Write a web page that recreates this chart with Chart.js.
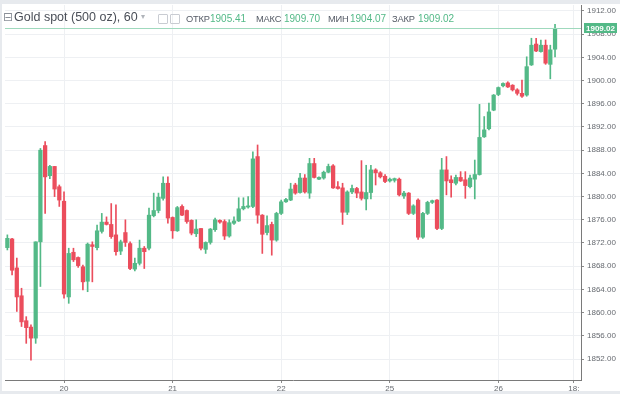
<!DOCTYPE html>
<html>
<head>
<meta charset="utf-8">
<script src="https://cdn.jsdelivr.net/npm/chart.js@4.4.1/dist/chart.umd.min.js"></script>
<style>
  html, body { margin: 0; padding: 0; background: #ffffff; }
  #wrap { position: relative; width: 620px; height: 394px; overflow: hidden; }
  #c { position: absolute; left: 0; top: 0; }
  .stripe { position: absolute; background: #e7eaee; }
  .hd { position: absolute; white-space: nowrap; font-family: 'Liberation Sans', Arial, sans-serif; }
  .lbl { font-size: 9.3px; color: #555b66; top: 14px; letter-spacing: -0.2px; }
  .val { font-size: 10px; color: #53b987; top: 13px; }
  .ico { position: absolute; top: 14px; width: 8px; height: 8px; border: 1px solid #c9ccd2; border-radius: 1px; }
</style>
</head>
<body>
<div id="wrap">
  <canvas id="c" width="620" height="394"></canvas>
  <div class="stripe" style="left:0;top:0;width:620px;height:4px;"></div>
  <div class="stripe" style="left:0;top:0;width:2px;height:394px;"></div>
  <div class="stripe" style="left:0;top:391px;width:620px;height:3px;"></div>
  <span class="hd" style="left:3px;top:10px;font-size:12px;color:#8a8f98;font-family:'DejaVu Sans';">⊟</span>
  <span class="hd" style="left:14px;top:10px;font-size:12.5px;color:#4a4f58;">Gold spot (500 oz), 60</span>
  <span class="hd" style="left:141px;top:12px;font-size:8px;color:#b0b4ba;font-family:'DejaVu Sans';">▾</span>
  <span class="ico" style="left:158px;"></span>
  <span class="ico" style="left:170px;"></span>
  <span class="hd lbl" style="left:186px;">ОТКР</span><span class="hd val" style="left:210px;">1905.41</span>
  <span class="hd lbl" style="left:256px;">МАКС</span><span class="hd val" style="left:284px;">1909.70</span>
  <span class="hd lbl" style="left:328px;">МИН</span><span class="hd val" style="left:350px;">1904.07</span>
  <span class="hd lbl" style="left:392px;">ЗАКР</span><span class="hd val" style="left:418px;">1909.02</span>
</div>
<script>
// ---- data (hourly candles) ----
const opens = [
  1871.2,1872.7,1867.7,1862.9,1858.6,1857.5,1855.6,1872.2,1888.8,1883.6,
  1885.2,1881.7,1879.2,1862.7,1870.4,1869.5,1867.9,1865.4,1871.7,1871.2,
  1874.0,1875.6,1875.2,1873.4,1870.6,1873.8,1871.9,1867.5,1868.5,1871.1,
  1871.1,1876.7,1877.6,1879.7,1882.3,1876.4,1874.1,1878.3,1877.6,1875.9,
  1873.6,1874.5,1870.9,1872.1,1874.3,1875.9,1875.7,1873.2,1875.4,1875.8,
  1877.9,1878.2,1878.3,1886.9,1876.8,1873.8,1875.2,1872.5,1877.1,1879.1,
  1879.4,1882.0,1880.7,1883.2,1880.6,1885.7,1883.0,1883.2,1884.2,1885.3,
  1881.7,1881.5,1877.3,1880.8,1881.4,1880.8,1879.6,1880.7,1884.6,1884.1,
  1883.5,1882.7,1882.8,1883.0,1880.1,1880.6,1877.1,1879.4,1873.0,1877.1,
  1879.0,1879.4,1874.5,1884.6,1882.9,1882.3,1883.3,1882.9,1881.7,1883.0,
  1883.8,1890.3,1891.7,1894.9,1897.6,1899.1,1899.6,1899.2,1898.4,1897.8,
  1897.5,1902.7,1906.3,1905.0,1906.1,1902.8,1905.41
];
const highs = [
  1873.4,1872.8,1869.4,1864.2,1859.3,1857.9,1872.2,1888.3,1889.5,1885.4,
  1885.2,1882.0,1880.8,1871.1,1871.1,1869.6,1868.2,1872.0,1872.2,1875.1,
  1877.1,1876.5,1878.8,1878.6,1872.5,1876.0,1872.2,1869.4,1872.5,1871.4,
  1878.0,1880.6,1880.6,1883.4,1883.4,1876.5,1878.3,1878.6,1877.7,1876.0,
  1876.0,1874.5,1872.2,1874.5,1876.3,1876.0,1876.0,1876.0,1876.5,1879.8,
  1879.8,1880.0,1887.7,1888.9,1876.9,1876.7,1875.6,1877.3,1879.4,1879.7,
  1882.3,1882.3,1884.0,1883.8,1886.6,1886.6,1883.4,1884.4,1885.6,1885.5,
  1882.6,1882.3,1881.0,1882.0,1881.6,1886.2,1885.4,1885.4,1884.8,1884.3,
  1883.8,1883.2,1883.2,1883.2,1880.9,1880.7,1878.6,1879.6,1877.3,1879.2,
  1879.4,1879.5,1886.6,1886.9,1883.6,1883.7,1884.3,1884.3,1883.7,1886.3,
  1895.9,1893.8,1896.1,1897.6,1898.9,1899.6,1899.8,1899.3,1898.6,1900.1,
  1904.1,1907.3,1907.3,1907.0,1907.0,1906.1,1909.70
];
const lows = [
  1870.8,1866.5,1860.2,1857.6,1854.7,1851.8,1854.7,1864.5,1877.1,1883.1,
  1880.0,1878.3,1862.5,1861.6,1868.8,1867.8,1863.9,1863.6,1865.3,1870.8,
  1873.7,1875.1,1872.8,1869.9,1870.0,1871.4,1867.4,1867.2,1868.2,1867.6,
  1870.8,1876.5,1877.2,1879.4,1875.4,1872.8,1874.0,1876.7,1875.4,1873.4,
  1873.1,1870.8,1870.2,1871.8,1874.0,1875.4,1872.6,1873.0,1875.2,1875.7,
  1877.7,1878.0,1878.1,1875.4,1870.2,1873.4,1869.9,1872.3,1876.9,1879.0,
  1879.3,1880.4,1880.6,1880.6,1879.7,1883.2,1882.9,1883.0,1884.1,1881.4,
  1881.3,1875.2,1876.9,1880.5,1879.8,1879.4,1877.7,1879.6,1882.0,1883.2,
  1882.4,1882.5,1882.5,1880.1,1879.7,1876.9,1876.9,1872.6,1872.8,1876.9,
  1878.8,1874.3,1874.3,1880.3,1879.9,1882.0,1882.6,1879.7,1881.5,1879.6,
  1883.7,1890.2,1891.5,1894.8,1897.4,1898.9,1898.8,1898.2,1897.5,1897.1,
  1897.3,1902.6,1905.0,1904.9,1902.8,1900.3,1904.07
];
const closes = [
  1872.8,1867.3,1862.7,1858.4,1857.4,1855.6,1872.2,1888.0,1883.4,1885.2,
  1881.3,1879.4,1863.2,1870.2,1869.1,1868.1,1865.3,1871.8,1871.4,1874.1,
  1875.6,1875.2,1873.1,1870.5,1872.2,1872.1,1867.6,1868.5,1871.1,1870.5,
  1876.8,1877.6,1879.9,1882.3,1876.3,1874.1,1878.1,1876.8,1875.7,1873.7,
  1874.4,1871.1,1872.1,1874.4,1876.0,1875.6,1873.2,1875.5,1875.8,1877.9,
  1878.3,1878.4,1886.5,1876.8,1873.5,1875.0,1872.5,1877.1,1879.1,1879.5,
  1881.3,1880.6,1883.2,1880.8,1885.7,1883.3,1883.3,1884.2,1885.2,1881.5,
  1881.4,1877.3,1880.8,1881.4,1880.6,1879.7,1880.7,1884.6,1884.1,1883.4,
  1882.6,1883.0,1883.1,1880.3,1880.6,1877.1,1878.4,1873.0,1877.1,1879.0,
  1879.3,1874.5,1884.6,1882.7,1882.4,1883.3,1882.7,1881.9,1883.2,1883.8,
  1890.2,1891.5,1894.6,1897.5,1898.8,1899.5,1898.9,1898.4,1897.8,1897.3,
  1902.4,1906.1,1905.1,1906.1,1903.0,1905.3,1909.02
];
// time slots (one per hour bar, plus empty future slots on the right)
const slotCount = 122;
const slots = Array.from({length: slotCount}, (_, i) => i);
// day tick labels and the bar index where each one sits
const dayLabels = ['20', '21', '22', '25', '26', '18:'];
const dayStarts = [12, 35, 58, 81, 104, 120];
// price axis ticks
const yTicks = [1852,1856,1860,1864,1868,1872,1876,1880,1884,1888,1892,1896,1900,1904,1908,1912];

const UP = '#53b987', DOWN = '#eb4d5c';
const colorAt = (i) => closes[i] >= opens[i] ? UP : DOWN;
const FONT = "'Liberation Sans', Arial, sans-serif";

const priceLine = {
  id: 'priceLine',
  afterDatasetsDraw(chart) {
    const {ctx, chartArea, scales} = chart;
    const last = closes[closes.length - 1];
    const y = Math.round(scales.y.getPixelForValue(last)) + 0.5;
    ctx.save();
    ctx.strokeStyle = '#9fd9bd';
    ctx.lineWidth = 1;
    ctx.beginPath();
    ctx.moveTo(chartArea.left, y);
    ctx.lineTo(chartArea.right, y);
    ctx.stroke();
    ctx.restore();
  },
  afterDraw(chart) {
    const {ctx, chartArea, scales} = chart;
    const last = closes[closes.length - 1];
    const y = scales.y.getPixelForValue(last);
    ctx.save();
    ctx.fillStyle = UP;
    ctx.fillRect(chartArea.right + 3, Math.round(y) - 5, 33, 10);
    ctx.fillStyle = '#ffffff';
    ctx.font = 'bold 8px ' + FONT;
    ctx.textAlign = 'left';
    ctx.textBaseline = 'middle';
    ctx.fillText(last.toFixed(2), chartArea.right + 5, Math.round(y) + 0.5);
    ctx.restore();
  }
};

new Chart(document.getElementById('c'), {
  type: 'bar',
  data: {
    labels: slots,
    datasets: [
      {
        label: 'body',
        data: opens.map((o, i) => [o, closes[i]]),
        backgroundColor: (c) => colorAt(c.dataIndex),
        borderWidth: 0,
        barThickness: 3.6,
        minBarLength: 1,
        grouped: false,
        order: 0
      },
      {
        label: 'wick',
        data: lows.map((l, i) => [l, highs[i]]),
        backgroundColor: (c) => colorAt(c.dataIndex),
        borderWidth: 0,
        barThickness: 1,
        grouped: false,
        order: 1
      }
    ]
  },
  options: {
    responsive: false,
    animation: false,
    devicePixelRatio: 1,
    layout: { padding: { left: 5, top: 5, right: 0, bottom: 0 } },
    plugins: { legend: { display: false }, tooltip: { enabled: false } },
    scales: {
      x: {
        type: 'category',
        offset: true,
        grid: { offset: false, color: '#eef0f3', tickColor: '#8a8a8a', tickLength: 3, drawOnChartArea: true },
        border: { color: '#7a7a7a', width: 1 },
        ticks: {
          autoSkip: false, maxRotation: 0, padding: 1,
          font: { family: FONT, size: 8 }, color: '#666a70',
          callback: (v) => { const k = dayStarts.indexOf(v); return k >= 0 ? dayLabels[k] : ''; }
        },
        afterBuildTicks: (s) => { s.ticks = dayStarts.map(v => ({ value: v })); },
        afterFit: (s) => { s.height = 14; s.paddingLeft = 0; s.paddingRight = 0; }
      },
      y: {
        position: 'right',
        min: 1848.38,
        max: 1913.03,
        grid: { color: '#eef0f3', tickColor: '#8a8a8a', tickLength: 3 },
        border: { color: '#7a7a7a', width: 1 },
        ticks: {
          padding: 3,
          font: { family: FONT, size: 8 }, color: '#666a70',
          callback: (v) => Number(v).toFixed(2)
        },
        afterBuildTicks: (s) => { s.ticks = yTicks.map(v => ({ value: v })); },
        afterFit: (s) => { s.width = 39; s.paddingTop = 0; s.paddingBottom = 0; }
      }
    }
  },
  plugins: [priceLine]
});
</script>
</body>
</html>
